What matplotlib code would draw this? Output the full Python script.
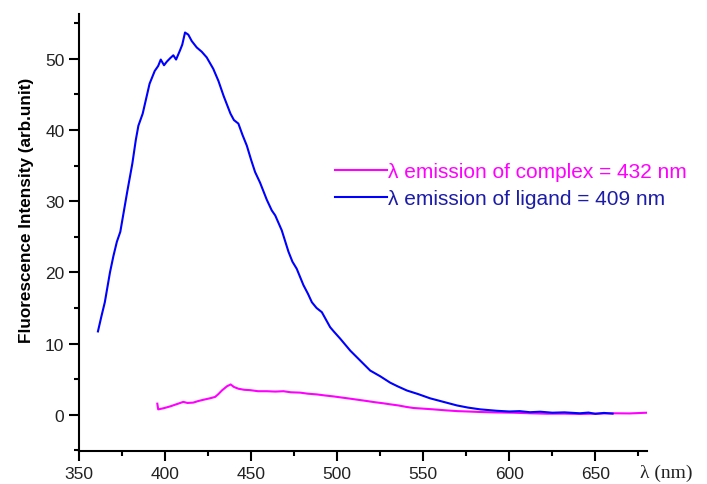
import matplotlib
matplotlib.use('Agg')
import matplotlib.pyplot as plt
from matplotlib.ticker import MultipleLocator

# emission spectra
ligand_wl = [361, 363, 365, 368, 370, 372, 374, 375, 378, 381, 383, 384.5, 387, 389,
             391, 394, 396, 397.5, 399.4, 401, 403, 404.8, 406.4, 408.7, 410, 411.6,
             413.5, 415.5, 418.4, 421.3, 424.2, 428, 431, 434, 438, 440, 442.6, 445,
             447.5, 450, 452.3, 455.2, 459.1, 462, 464, 467.8, 471.7, 474, 476.5,
             480.4, 483, 485.3, 488, 491.1, 495.9, 498, 501.7, 507.6, 513.4, 519.2,
             525, 530.8, 535, 540.5, 547, 554, 561.8, 569.6, 576, 583.1, 592.8, 600,
             606, 612, 618, 625, 632, 641, 646, 650, 655, 660]
ligand_int = [11.7, 13.8, 15.8, 20.0, 22.3, 24.3, 25.7, 27.1, 31.3, 35.3, 38.6, 40.6,
              42.3, 44.4, 46.5, 48.3, 49.0, 49.9, 49.1, 49.6, 50.1, 50.5, 49.9, 51.2,
              52.0, 53.7, 53.4, 52.5, 51.6, 51.0, 50.2, 48.6, 46.9, 44.8, 42.3, 41.4,
              40.9, 39.3, 37.8, 35.8, 34.1, 32.6, 30.2, 28.7, 28.0, 25.9, 22.9, 21.5,
              20.5, 18.2, 17.0, 15.8, 15.0, 14.4, 12.3, 11.7, 10.7, 9.0, 7.6, 6.2, 5.4,
              4.5, 4.0, 3.4, 2.9, 2.3, 1.8, 1.3, 1.0, 0.75, 0.55, 0.45,
              0.5, 0.35, 0.42, 0.28, 0.33, 0.2, 0.3, 0.12, 0.25, 0.15]

complex_wl = [395.5, 396, 399, 403, 407, 410.6, 413, 416.4, 419, 422.3, 426, 429.1,
              431, 433, 436, 438.1, 440, 442.6, 446, 449.4, 454, 459.1, 464, 468.8,
              473, 478.5, 483, 488.2, 493, 497.8, 503, 507.6, 512, 517.3, 522, 526.9,
              531, 535.6, 540, 544.4, 550, 556, 563.8, 570, 576, 583.1, 592, 602.5,
              612, 621.9, 632, 641.3, 650, 660, 670, 680]
complex_int = [1.55, 0.75, 0.9, 1.17, 1.5, 1.8, 1.65, 1.7, 1.9, 2.1, 2.3, 2.5, 2.9,
               3.4, 4.0, 4.25, 3.9, 3.65, 3.5, 3.45, 3.3, 3.3, 3.25, 3.3, 3.15, 3.1,
               2.95, 2.85, 2.7, 2.57, 2.4, 2.25, 2.1, 1.92, 1.75, 1.6, 1.45, 1.3, 1.1,
               0.94, 0.85, 0.75, 0.6, 0.5, 0.45, 0.38, 0.32, 0.28, 0.2, 0.14, 0.15,
               0.1, 0.15, 0.2, 0.18, 0.28]

labels = ['\u03bb emission of complex = 432 nm', '\u03bb emission of ligand = 409 nm']

plt.rcParams['font.family'] = ['Liberation Sans', 'DejaVu Sans']

fig = plt.figure(figsize=(7.07, 4.85), dpi=100)
ax = fig.add_axes([79 / 707, 1 - 452 / 485, (647 - 79) / 707, (452 - 15) / 485])

ax.plot(complex_wl, complex_int, color='#ff00ff', lw=1.5, label=labels[0])
ax.plot(ligand_wl, ligand_int, color='#0000ff', lw=1.5, label=labels[1])

ax.set_xlim(350, 680)
ax.set_ylim(-5.1, 56.3)
ax.xaxis.set_major_locator(MultipleLocator(50))
ax.xaxis.set_minor_locator(MultipleLocator(25))
ax.yaxis.set_major_locator(MultipleLocator(10))
ax.yaxis.set_minor_locator(MultipleLocator(5))

for s in ['top', 'right']:
    ax.spines[s].set_visible(False)
for s in ['left', 'bottom']:
    ax.spines[s].set_linewidth(1.5)

ax.tick_params(which='major', direction='out', length=7, width=1.5, labelsize=12.5,
               labelcolor='#222222')
ax.tick_params(which='minor', direction='out', length=3.5, width=1.5)

ax.set_ylabel('Fluorescence Intensity (arb.unit)', fontsize=12.3, fontweight='bold')
ax.yaxis.set_label_coords(-0.079, (452 - 210) / 437)

ax.annotate('\u03bb (nm)', xy=(1, 0), xycoords='axes fraction',
            xytext=(-5, -9), textcoords='offset points', ha='left', va='top',
            fontsize=14, family='Liberation Serif', color='#222222')

leg = ax.legend(loc='upper left', bbox_to_anchor=(335 / 707, 1 - 163 / 485),
                bbox_transform=fig.transFigure, frameon=False, fontsize=15,
                handlelength=2.5, handletextpad=0.05, labelspacing=0.4,
                borderpad=0, borderaxespad=0, labelcolor=['#ff00ff', '#1c1ca8'])

fig.savefig('out.png', dpi=100)
